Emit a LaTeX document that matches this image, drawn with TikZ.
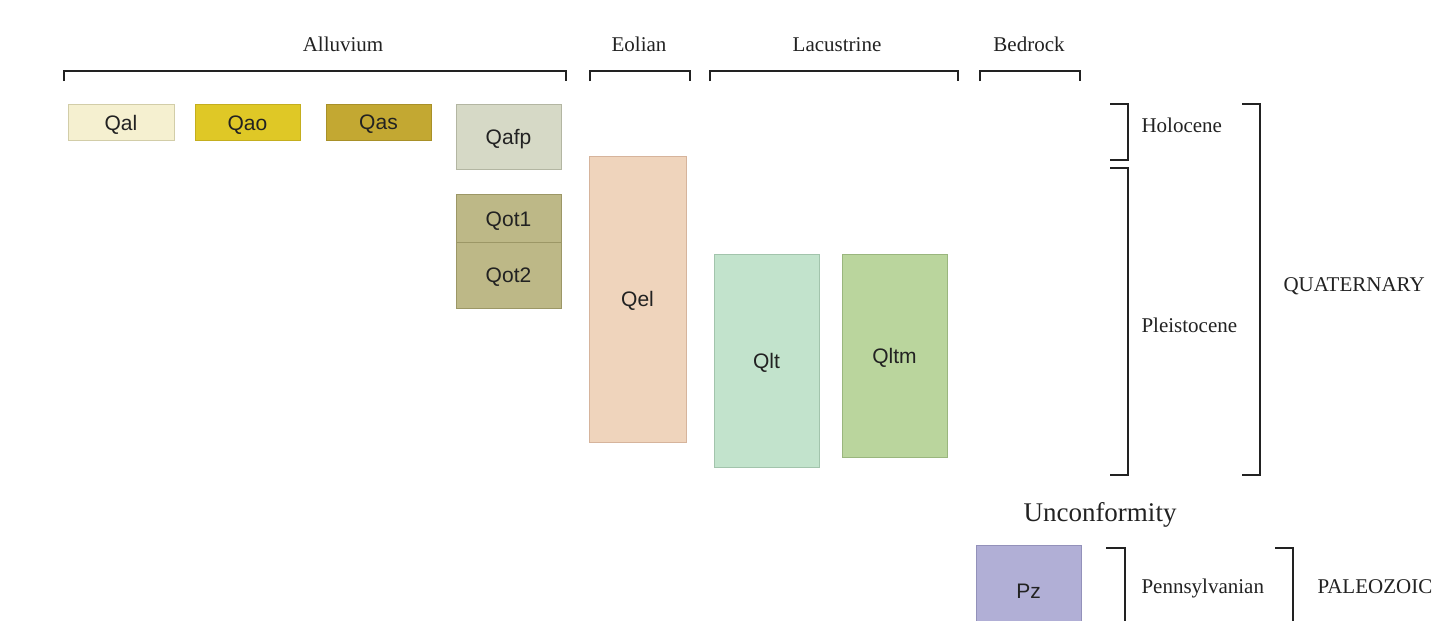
\documentclass[tikz,border=0pt]{standalone}
\usepackage{fontspec}
\setmainfont{Liberation Serif}
\newfontfamily\unitfont{Liberation Sans}

\definecolor{qalfill}{HTML}{F5F0D0}  \definecolor{qalline}{HTML}{D2CDA8}
\definecolor{qaofill}{HTML}{DFC826}  \definecolor{qaoline}{HTML}{C4AE1E}
\definecolor{qasfill}{HTML}{C3A832}  \definecolor{qasline}{HTML}{A89028}
\definecolor{qafpfill}{HTML}{D6D9C6} \definecolor{qafpline}{HTML}{B3B6A2}
\definecolor{qotfill}{HTML}{BDB887}  \definecolor{qotline}{HTML}{9C9766}
\definecolor{qelfill}{HTML}{EFD4BC}  \definecolor{qelline}{HTML}{D6B49C}
\definecolor{qltfill}{HTML}{C2E3CC}  \definecolor{qltline}{HTML}{A2C4AC}
\definecolor{qltmfill}{HTML}{BAD59D} \definecolor{qltmline}{HTML}{9AB67E}
\definecolor{pzfill}{HTML}{B1AFD6}   \definecolor{pzline}{HTML}{9391BA}
\definecolor{ink}{HTML}{222222}

\tikzset{
  unit/.style={draw, line width=0.8pt, inner sep=0pt, text=ink, text depth=0pt,
               font=\unitfont\fontsize{21}{24}\selectfont},
  group/.style={font=\fontsize{21}{24}\selectfont, text=ink, anchor=base},
  agelabel/.style={font=\fontsize{21}{24}\selectfont, text=ink, anchor=base west},
  brace/.style={draw=ink, line width=2.5pt, line cap=butt}
}

\begin{document}
\begin{tikzpicture}[x=1pt, y=-1pt]
            \useasboundingbox (0,0) rectangle (1452,621);
            % group headings and their brackets
            \node[group] (alluvium)   at (343,51)  {Alluvium};
            \node[group] (eolian)     at (639,51)  {Eolian};
            \node[group] (lacustrine) at (837,51)  {Lacustrine};
            \node[group] (bedrock)    at (1029,51) {Bedrock};
            \draw[brace] (64,81) -- (64,71) -- (566,71) -- (566,81);
            \draw[brace] (590,81) -- (590,71) -- (690,71) -- (690,81);
            \draw[brace] (710,81) -- (710,71) -- (958,71) -- (958,81);
            \draw[brace] (980,81) -- (980,71) -- (1080,71) -- (1080,81);

            % map units
            \node[unit, fill=qalfill, draw=qalline, minimum width=106pt, minimum height=36pt]
                (qal) at (121,122) {\raisebox{-2pt}{Qal}};
            \node[unit, fill=qaofill, draw=qaoline, minimum width=105pt, minimum height=36pt]
                (qao) at (247.5,122) {\raisebox{-2pt}{Qao}};
            \node[unit, fill=qasfill, draw=qasline, minimum width=105pt, minimum height=36pt]
                (qas) at (378.5,122) {Qas};
            \node[unit, fill=qafpfill, draw=qafpline, minimum width=105pt, minimum height=65pt]
                (qafp) at (508.5,136.5) {Qafp};
            \node[unit, fill=qotfill, draw=qotline, minimum width=105pt, minimum height=48pt]
                (qot1) at (508.5,218) {\raisebox{-2pt}{Qot1}};
            \node[unit, fill=qotfill, draw=qotline, minimum width=105pt, minimum height=66pt]
                (qot2) at (508.5,275) {Qot2};
            \node[unit, fill=qelfill, draw=qelline, minimum width=97pt, minimum height=286pt]
                (qel) at (637.5,299) {Qel};
            \node[unit, fill=qltfill, draw=qltline, minimum width=105pt, minimum height=213pt]
                (qlt) at (766.5,360.5) {Qlt};
            \node[unit, fill=qltmfill, draw=qltmline, minimum width=105pt, minimum height=203pt]
                (qltm) at (894.5,355.5) {Qltm};
            \node[unit, fill=pzfill, draw=pzline, minimum width=105pt, minimum height=92pt]
                (pz) at (1028.5,591) {Pz};

            % time scale
            \draw[brace] (1110,104) -- (1128,104) -- (1128,160) -- (1110,160);
            \draw[brace] (1110,168) -- (1128,168) -- (1128,475) -- (1110,475);
            \draw[brace] (1242,104) -- (1260,104) -- (1260,475) -- (1242,475);
            \node[agelabel] (holocene)    at (1138,132) {Holocene};
            \node[agelabel] (pleistocene) at (1138,332) {Pleistocene};
            \node[agelabel] (quaternary)  at (1280,291) {QUATERNARY};
            \node[font=\fontsize{27}{30}\selectfont, text=ink, anchor=base] (unconf) at (1100,521) {Unconformity};
            \draw[brace] (1106,548) -- (1125,548) -- (1125,630);
            \draw[brace] (1275,548) -- (1293,548) -- (1293,630);
            \node[agelabel] (pennsylvanian) at (1138,593) {Pennsylvanian};
            \node[agelabel] (paleozoic)     at (1314,593) {PALEOZOIC};
        \end{tikzpicture}
\end{document}
